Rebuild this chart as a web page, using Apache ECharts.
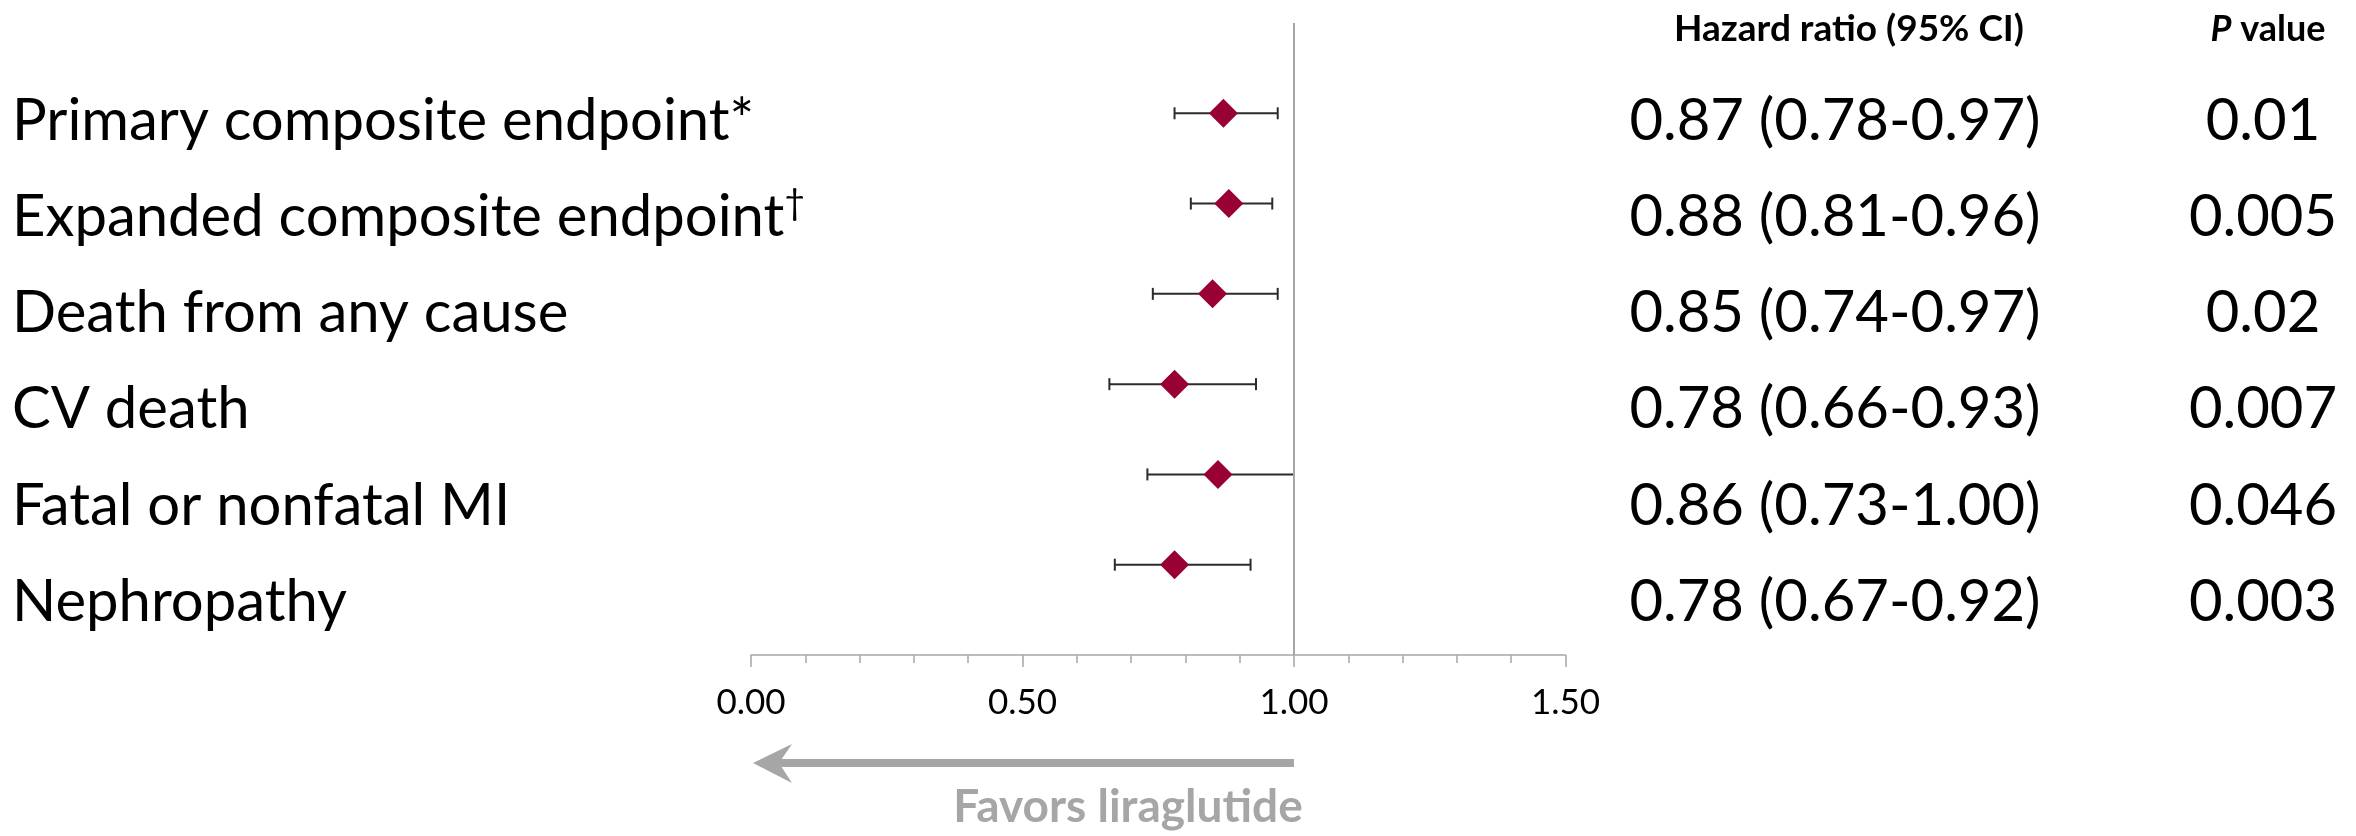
<!DOCTYPE html>
<html><head><meta charset="utf-8">
<script src="https://cdn.jsdelivr.net/npm/echarts@6/dist/echarts.min.js"></script>
<style>html,body{margin:0;padding:0;background:#fff}#c{width:2356px;height:836px}</style>
</head><body><div id="c"></div>
<script>
// ---- data ----
const categories = ['Primary composite endpoint', 'Expanded composite endpoint', 'Death from any cause', 'CV death', 'Fatal or nonfatal MI', 'Nephropathy'];
const categoryMarks = ['*', '†', '', '', '', ''];
const hazardRatio = [0.87, 0.88, 0.85, 0.78, 0.86, 0.78];
const ciLow = [0.78, 0.81, 0.74, 0.66, 0.73, 0.67];
const ciHigh = [0.97, 0.96, 0.97, 0.93, 1.00, 0.92];
const pValues = ['0.01', '0.005', '0.02', '0.007', '0.046', '0.003'];
const xTickValues = [0, 0.5, 1.0, 1.5];
const headerHR = 'Hazard ratio (95% CI)';
const headerP = ['P', ' value'];
const favorsText = 'Favors liraglutide';

const FONT = 'Lato, "Open Sans", sans-serif';
const rowIdx = categories.map((_, i) => i + 1);

const chart = echarts.init(document.getElementById('c'), null, {renderer: 'canvas'});

function errorBar(params, api) {
  const y = api.value(2);
  const p1 = api.coord([api.value(0), y]);
  const p2 = api.coord([api.value(1), y]);
  const h = 6;
  const st = {stroke: '#2b2b2b', lineWidth: 2};
  return {type: 'group', children: [
    {type: 'line', shape: {x1: p1[0], y1: p1[1], x2: p2[0], y2: p2[1]}, style: st},
    {type: 'line', shape: {x1: p1[0], y1: p1[1] - h, x2: p1[0], y2: p1[1] + h}, style: st},
    {type: 'line', shape: {x1: p2[0], y1: p2[1] - h, x2: p2[0], y2: p2[1] + h}, style: st}
  ]};
}

chart.setOption({
  animation: false,
  backgroundColor: '#fff',
  grid: {left: 751, top: 23, width: 814.5, height: 632},
  xAxis: {
    type: 'value', position: 'bottom',
    min: xTickValues[0], max: xTickValues[xTickValues.length - 1], interval: 0.5,
    splitLine: {show: false},
    axisLine: {show: true, onZero: false, lineStyle: {color: '#a6a6a6', width: 1.5}},
    axisTick: {show: true, length: 12, lineStyle: {color: '#a6a6a6', width: 1.5}},
    minorTick: {show: true, splitNumber: 5, length: 8, lineStyle: {color: '#a6a6a6', width: 1.5}},
    axisLabel: {formatter: v => v.toFixed(2), fontSize: 35, fontFamily: FONT, color: '#000', margin: 30}
  },
  yAxis: {type: 'value', min: 0, max: 7, inverse: true, show: false},
  series: [
    {
      type: 'custom', renderItem: errorBar, z: 3,
      data: ciLow.map((lo, i) => [lo, ciHigh[i], rowIdx[i]]),
      encode: {x: [0, 1], y: 2}
    },
    {
      type: 'scatter', symbol: 'diamond', symbolSize: 29, z: 5,
      itemStyle: {color: '#990033', opacity: 1},
      data: hazardRatio.map((v, i) => [v, rowIdx[i]]),
      markLine: {
        silent: true, symbol: 'none', label: {show: false},
        lineStyle: {color: '#a6a6a6', width: 2, type: 'solid', opacity: 1},
        data: [{xAxis: 1}]
      }
    }
  ]
});

// ---- table text & arrow (layout via graphic) ----
const textY0 = 121, textStep = 96.2;
const labelX = 12, hrX = 1835, pX = 2263;
const BIG = 58;
const graphics = [];
categories.forEach((c, i) => {
  const y = textY0 + textStep * i;
  graphics.push({type: 'text', x: labelX, y: y, style: {
    text: '{b|' + c + '}' + (categoryMarks[i] ? (categoryMarks[i] === '*' ? '{b|*}' : '{s|' + categoryMarks[i] + '}') : ''),
    verticalAlign: 'middle', align: 'left',
    rich: {
      b: {fontSize: BIG, fontFamily: FONT, color: '#000', lineHeight: 66},
      s: {fontSize: 36, fontFamily: FONT, color: '#000', lineHeight: 66, padding: [0, 0, 28, 0]}
    }
  }});
  const hrText = hazardRatio[i].toFixed(2) + ' (' + ciLow[i].toFixed(2) + '-' + ciHigh[i].toFixed(2) + ')';
  graphics.push({type: 'text', x: hrX, y: y, style: {text: hrText, fontSize: BIG, fontFamily: FONT, fill: '#000', align: 'center', verticalAlign: 'middle'}});
  graphics.push({type: 'text', x: pX, y: y, style: {text: pValues[i], fontSize: BIG, fontFamily: FONT, fill: '#000', align: 'center', verticalAlign: 'middle'}});
});
graphics.push({type: 'text', x: 1849, y: 29, style: {text: headerHR, fontSize: 37, fontWeight: 'bold', fontFamily: FONT, fill: '#000', align: 'center', verticalAlign: 'middle'}});
graphics.push({type: 'text', x: 2268, y: 29, style: {
  text: '{i|' + headerP[0] + '}{b|' + headerP[1] + '}', align: 'center', verticalAlign: 'middle',
  rich: {
    i: {fontSize: 36, fontWeight: 'bold', fontStyle: 'italic', fontFamily: FONT, color: '#000'},
    b: {fontSize: 36, fontWeight: 'bold', fontFamily: FONT, color: '#000'}
  }
}});

const x0 = chart.convertToPixel({xAxisIndex: 0}, 0);
const x1 = chart.convertToPixel({xAxisIndex: 0}, 1);
const ay = 763;
graphics.push({type: 'rect', shape: {x: x0 + 24, y: ay - 4, width: x1 - x0 - 24, height: 8}, style: {fill: '#a6a6a6'}});
graphics.push({type: 'polygon', shape: {points: [[x0 + 2, ay], [x0 + 41, ay - 19], [x0 + 28, ay], [x0 + 41, ay + 20]]}, style: {fill: '#a6a6a6'}});
graphics.push({type: 'text', x: 1128, y: 807, style: {text: favorsText, fontSize: 46, fontWeight: 'bold', fontFamily: FONT, fill: '#a6a6a6', align: 'center', verticalAlign: 'middle'}});

chart.setOption({graphic: graphics});
</script>
</body></html>
